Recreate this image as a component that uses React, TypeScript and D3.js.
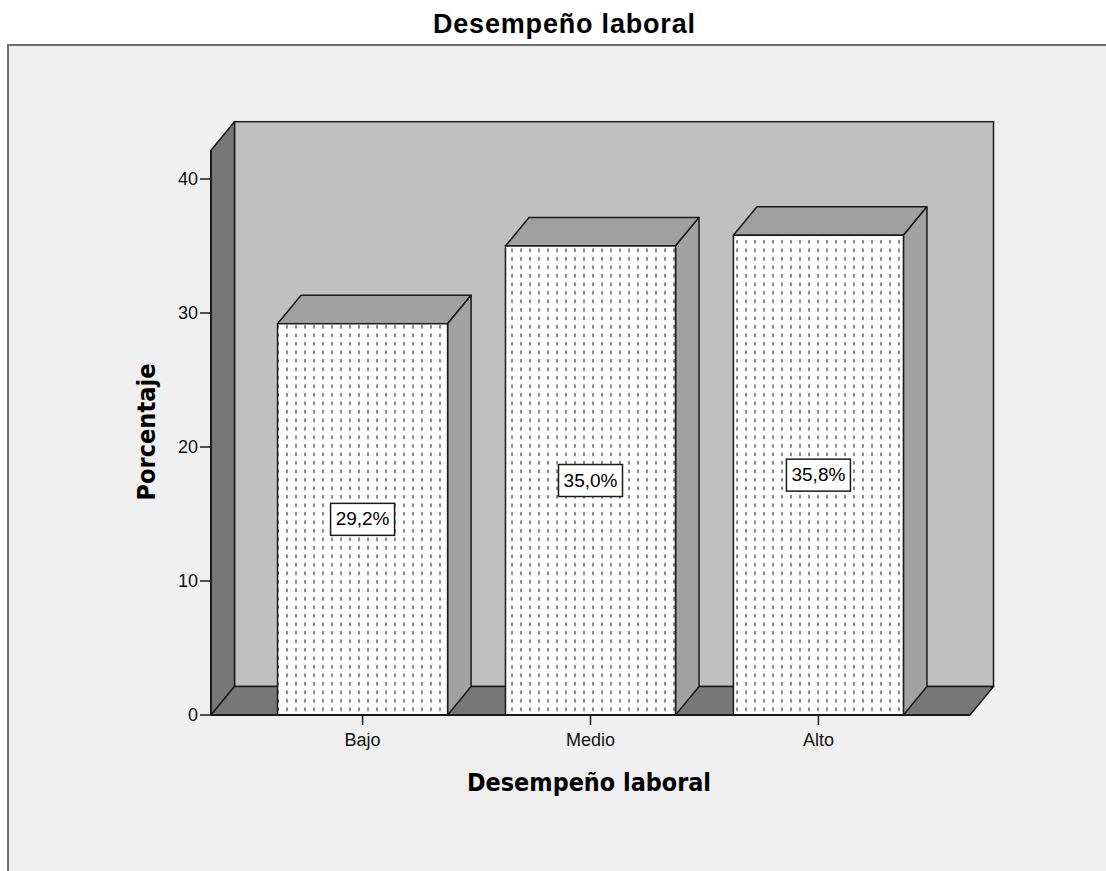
import React from 'react';
import * as d3 from 'd3';

// categories and percentages
const categories = ['Bajo', 'Medio', 'Alto'];
const percents = [29.2, 35.0, 35.8];
const yTicks = [0, 10, 20, 30, 40];
const valueLabels = ['29,2%', '35,0%', '35,8%'];

const W = 1106;
const H = 871;

// 3D depth offset
const DX = 23.5;
const DY = 28.5;
const WALL_TOP = 42.15;

const x = d3.scaleBand<string>()
  .domain(categories)
  .range([211, 970])
  .paddingInner(0.254)
  .paddingOuter(0.292);

const y = d3.scaleLinear().domain([0, 40]).range([715, 179]);

const pts = (p: [number, number][]) => p.map(d => d.join(',')).join(' ');

export default function App() {
  const x0 = x.range()[0];
  const x1 = x.range()[1];
  const y0 = y(0);
  const yTop = y(WALL_TOP);
  const stroke = '#1a1a1a';

  return (
    <svg width={W} height={H} style={{ position: 'absolute', left: 0, top: 0 }}>
      <defs>
        <pattern id="dots" width={9} height={8.5} patternUnits="userSpaceOnUse" x={7} y={0}>
          <rect width={9} height={8.5} fill="#ffffff" />
          <rect x={0} y={2} width={2} height={3.6} fill="#8a8a8a" />
        </pattern>
      </defs>
      <rect width={W} height={H} fill="#ffffff" />

      {/* title */}
      <text x={564} y={33} textAnchor="middle" fontFamily="Liberation Sans, Arial, sans-serif"
        fontWeight="bold" fontSize={27} textLength={262} lengthAdjust="spacing" fill="#000">
        Desempeño laboral
      </text>

      {/* chart frame */}
      <rect x={8} y={45} width={W + 20} height={H} fill="#f0f0f0" stroke="#6e6e6e" strokeWidth={2} />

      {/* back wall */}
      <rect x={x0 + DX} y={yTop - DY} width={x1 - x0} height={y0 - yTop}
        fill="#c0c0c0" stroke={stroke} strokeWidth={1.5} />
      {/* left wall */}
      <polygon points={pts([[x0, y0], [x0, yTop], [x0 + DX, yTop - DY], [x0 + DX, y0 - DY]])}
        fill="#777777" stroke={stroke} strokeWidth={1.5} strokeLinejoin="round" />
      {/* floor */}
      <polygon points={pts([[x0, y0], [x1, y0], [x1 + DX, y0 - DY], [x0 + DX, y0 - DY]])}
        fill="#777777" stroke={stroke} strokeWidth={1.5} strokeLinejoin="round" />

      {/* bars */}
      {categories.map((c, i) => {
        const bx = x(c)!;
        const bw = x.bandwidth();
        const by = y(percents[i]);
        return (
          <g key={c}>
            <polygon points={pts([[bx, by], [bx + DX, by - DY], [bx + bw + DX, by - DY], [bx + bw, by]])}
              fill="#a0a0a0" stroke={stroke} strokeWidth={1.5} strokeLinejoin="round" />
            <polygon points={pts([[bx + bw, by], [bx + bw + DX, by - DY], [bx + bw + DX, y0 - DY], [bx + bw, y0]])}
              fill="#a2a2a2" stroke={stroke} strokeWidth={1.5} strokeLinejoin="round" />
            <rect x={bx} y={by} width={bw} height={y0 - by} fill="url(#dots)" stroke={stroke} strokeWidth={1.5} />
          </g>
        );
      })}

      {/* value labels */}
      {categories.map((c, i) => {
        const cx = x(c)! + x.bandwidth() / 2;
        const cy = y(percents[i] / 2);
        return (
          <g key={c + '-lab'}>
            <rect x={cx - 32} y={cy - 16} width={64} height={32} fill="#ffffff" stroke={stroke} strokeWidth={1.5} />
            <text x={cx} y={cy + 1} textAnchor="middle" dominantBaseline="middle"
              fontFamily="Liberation Sans, Arial, sans-serif" fontSize={19} fill="#000">
              {valueLabels[i]}
            </text>
          </g>
        );
      })}

      {/* y axis */}
      <line x1={x0} x2={x0} y1={y0} y2={yTop} stroke={stroke} strokeWidth={2} />
      {yTicks.map(t => (
        <g key={t}>
          <line x1={x0 - 11} x2={x0} y1={y(t)} y2={y(t)} stroke={stroke} strokeWidth={1.5} />
          <text x={x0 - 13} y={y(t) + 1} textAnchor="end" dominantBaseline="middle"
            fontFamily="Liberation Sans, Arial, sans-serif" fontSize={18} fill="#111">
            {t}
          </text>
        </g>
      ))}

      {/* x axis */}
      <line x1={x0} x2={x1} y1={y0} y2={y0} stroke={stroke} strokeWidth={2} />
      {categories.map(c => {
        const cx = x(c)! + x.bandwidth() / 2;
        return (
          <g key={c + '-tick'}>
            <line x1={cx} x2={cx} y1={y0} y2={y0 + 10} stroke={stroke} strokeWidth={1.5} />
            <text x={cx} y={746} textAnchor="middle" fontFamily="Liberation Sans, Arial, sans-serif"
              fontSize={18} fill="#111">
              {c}
            </text>
          </g>
        );
      })}

      {/* axis titles */}
      <text x={589} y={791} textAnchor="middle" fontFamily="DejaVu Sans Condensed, DejaVu Sans, sans-serif"
        fontWeight="bold" fontSize={24} textLength={244} lengthAdjust="spacingAndGlyphs" fill="#000">
        Desempeño laboral
      </text>
      <text transform="translate(155,432) rotate(-90)" textAnchor="middle"
        fontFamily="DejaVu Sans Condensed, DejaVu Sans, sans-serif"
        fontWeight="bold" fontSize={24} textLength={137} lengthAdjust="spacingAndGlyphs" fill="#000">
        Porcentaje
      </text>
    </svg>
  );
}
